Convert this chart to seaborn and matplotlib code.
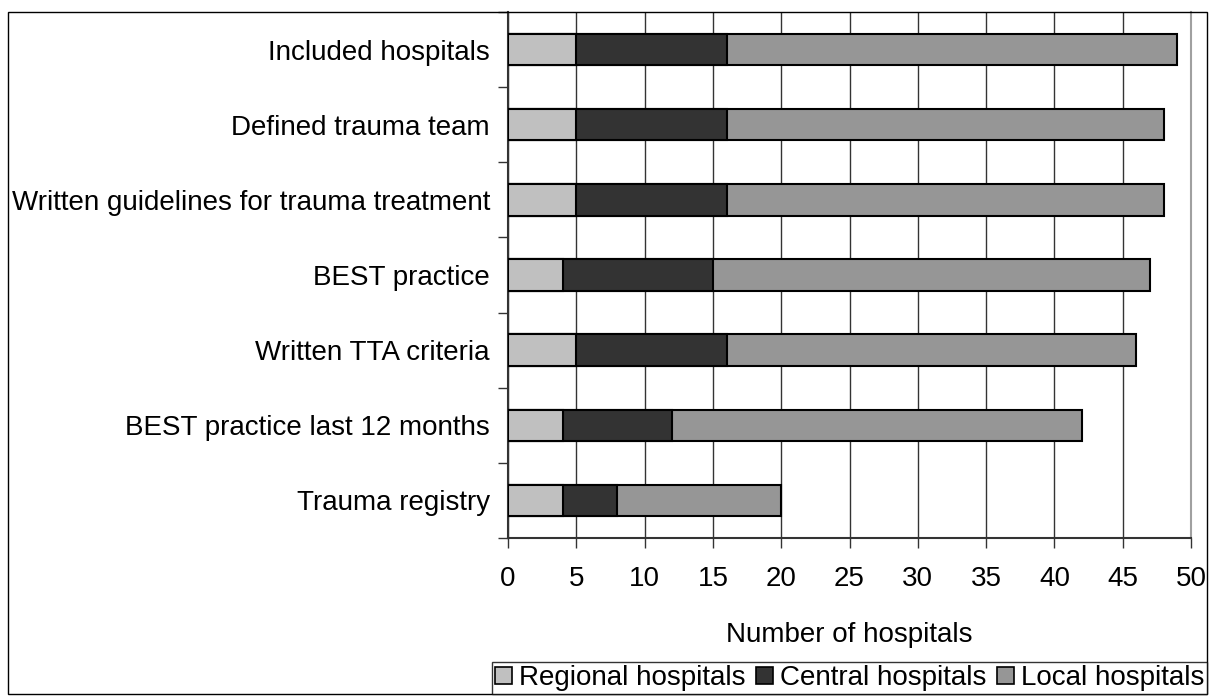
import pandas as pd
import seaborn as sns
import matplotlib.pyplot as plt
from matplotlib.patches import Rectangle, Patch

categories = [
    "Included hospitals",
    "Defined trauma team",
    "Written guidelines for trauma treatment",
    "BEST practice",
    "Written TTA criteria",
    "BEST practice last 12 months",
    "Trauma registry",
]
regional = [5, 5, 5, 4, 5, 4, 4]
central = [11, 11, 11, 11, 11, 8, 4]
local = [33, 32, 32, 32, 30, 30, 12]

series_names = ["Regional hospitals", "Central hospitals", "Local hospitals"]
colors = ["#C0C0C0", "#333333", "#969696"]

df = pd.DataFrame({"category": categories, "regional": regional,
                   "central": central, "local": local})
df["c1"] = df["regional"]
df["c2"] = df["regional"] + df["central"]
df["c3"] = df["c2"] + df["local"]

sns.set_style("white")
plt.rcParams["font.family"] = ["Liberation Sans", "DejaVu Sans"]
plt.rcParams["font.size"] = 20
plt.rcParams["text.color"] = "black"
plt.rcParams["axes.labelcolor"] = "black"
plt.rcParams["xtick.color"] = "black"
plt.rcParams["ytick.color"] = "black"

fig = plt.figure(figsize=(12.09, 6.96), dpi=100)
ax = fig.add_axes([508 / 1209, 1 - 538 / 696, (1191 - 508) / 1209, (538 - 12) / 696])

# draw cumulative totals back to front
for col, c in zip(["c3", "c2", "c1"], colors[::-1]):
    sns.barplot(data=df, x=col, y="category", orient="h", color=c,
                width=0.42, edgecolor="black", linewidth=1.5, ax=ax,
                saturation=1, zorder=3)

ax.set_xlim(0, 50)
ax.set_ylim(6.5, -0.5)
ax.set_xticks(range(0, 51, 5))
ax.xaxis.grid(True, color="#333333", linewidth=1)
ax.set_axisbelow(True)

ax.set_yticks(range(len(categories)))
ax.set_yticklabels(categories)
ax.set_yticks([i - 0.5 for i in range(len(categories) + 1)], minor=True)
ax.tick_params(axis="y", which="major", length=0, pad=13, labelsize=20)
ax.tick_params(axis="y", which="minor", length=7, width=1, color="#333333", direction="out", left=True)
ax.tick_params(axis="x", which="major", length=7, width=1, color="#333333", direction="out", pad=13, bottom=True, labelsize=20)

for s in ["left", "bottom"]:
    ax.spines[s].set_color("#333333")
    ax.spines[s].set_linewidth(1.5)
ax.spines["right"].set_color("#A0A0A0")
ax.spines["right"].set_linewidth(1.5)
ax.spines["top"].set_visible(False)

ax.set_ylabel("")
ax.set_xlabel("Number of hospitals", labelpad=22, fontsize=20)

# figure frame
fig.patches.append(Rectangle((8 / 1209, 2 / 696), 1199 / 1209, 682 / 696,
                             transform=fig.transFigure, fill=False,
                             edgecolor="black", linewidth=1))

handles = [Patch(facecolor=c, edgecolor="black", linewidth=1.2) for c in colors]
leg = fig.legend(handles, series_names, loc="lower right",
                 bbox_to_anchor=(1207 / 1209, 2 / 696), ncol=3,
                 frameon=True, fancybox=False, borderaxespad=0,
                 handlelength=0.6, handleheight=0.6, handletextpad=0.25,
                 columnspacing=0.4, borderpad=0.1, fontsize=20)
leg.get_frame().set_edgecolor("black")
leg.get_frame().set_linewidth(1)

fig.savefig("out.png", dpi=100)
